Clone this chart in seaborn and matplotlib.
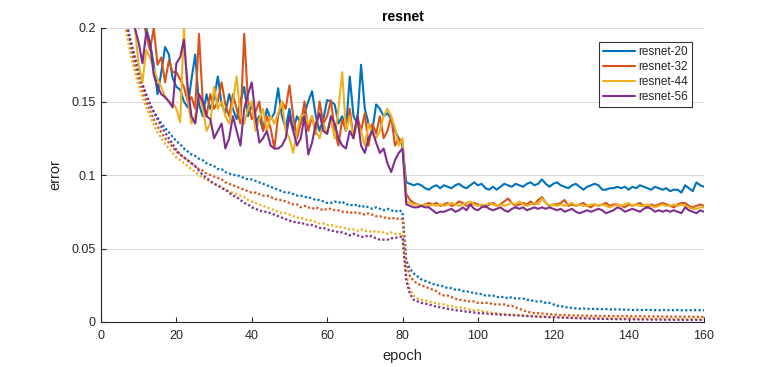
import numpy as np
import pandas as pd
import matplotlib
matplotlib.use("Agg")
import matplotlib.pyplot as plt
import seaborn as sns

# ---------------- data ----------------
models = ["resnet-20", "resnet-32", "resnet-44", "resnet-56"]
colors = ["#0072BD", "#D95319", "#EDB120", "#7E2F8E"]
epochs = list(range(1, 161))
x_ticks = [0, 20, 40, 60, 80, 100, 120, 140, 160]
y_ticks = [0, 0.05, 0.1, 0.15, 0.2]
y_tick_labels = ["0", "0.05", "0.1", "0.15", "0.2"]

test_r20 = [
    0.42, 0.34, 0.30, 0.27, 0.25, 0.235, 0.22, 0.215, 0.21, 0.205,
    0.21, 0.20, 0.19, 0.175, 0.155, 0.17, 0.187, 0.182, 0.166, 0.16,
    0.158, 0.15, 0.146, 0.165, 0.182, 0.148, 0.14, 0.155, 0.145, 0.152,
    0.167, 0.148, 0.142, 0.155, 0.145, 0.138, 0.15, 0.16, 0.14, 0.148,
    0.135, 0.14, 0.13, 0.145, 0.138, 0.142, 0.159, 0.14, 0.132, 0.145,
    0.13, 0.14, 0.135, 0.142, 0.15, 0.157, 0.14, 0.13, 0.138, 0.151,
    0.15, 0.148, 0.135, 0.14, 0.13, 0.167, 0.14, 0.135, 0.175, 0.145,
    0.135, 0.13, 0.148, 0.145, 0.14, 0.142, 0.138, 0.13, 0.125, 0.12,
    0.095, 0.094, 0.093, 0.094, 0.093, 0.091, 0.090, 0.092, 0.093, 0.091,
    0.093, 0.092, 0.091, 0.093, 0.094, 0.092, 0.091, 0.093, 0.095, 0.093,
    0.094, 0.091, 0.090, 0.092, 0.090, 0.092, 0.094, 0.093, 0.092, 0.094,
    0.093, 0.092, 0.094, 0.095, 0.093, 0.094, 0.097, 0.094, 0.092, 0.094,
    0.095, 0.093, 0.092, 0.091, 0.093, 0.094, 0.092, 0.090, 0.092, 0.093,
    0.094, 0.093, 0.090, 0.090, 0.091, 0.091, 0.092, 0.091, 0.092, 0.090,
    0.092, 0.091, 0.093, 0.092, 0.091, 0.090, 0.092, 0.091, 0.090, 0.091,
    0.089, 0.090, 0.090, 0.088, 0.093, 0.091, 0.089, 0.095, 0.093, 0.092,
]
test_r32 = [
    0.44, 0.35, 0.30, 0.27, 0.25, 0.235, 0.225, 0.215, 0.21, 0.20,
    0.21, 0.195, 0.185, 0.20, 0.175, 0.18, 0.163, 0.178, 0.17, 0.17,
    0.165, 0.16, 0.15, 0.153, 0.145, 0.196, 0.15, 0.14, 0.155, 0.145,
    0.15, 0.163, 0.148, 0.14, 0.155, 0.145, 0.135, 0.196, 0.15, 0.138,
    0.143, 0.15, 0.13, 0.14, 0.132, 0.118, 0.14, 0.15, 0.145, 0.161,
    0.14, 0.125, 0.135, 0.15, 0.13, 0.14, 0.128, 0.15, 0.135, 0.14,
    0.151, 0.13, 0.12, 0.138, 0.13, 0.145, 0.125, 0.14, 0.13, 0.142,
    0.12, 0.135, 0.128, 0.14, 0.125, 0.13, 0.14, 0.12, 0.125, 0.122,
    0.087, 0.083, 0.081, 0.080, 0.079, 0.080, 0.081, 0.080, 0.081, 0.079,
    0.080, 0.081, 0.079, 0.080, 0.082, 0.081, 0.079, 0.080, 0.081, 0.080,
    0.079, 0.078, 0.080, 0.081, 0.079, 0.080, 0.082, 0.084, 0.081, 0.079,
    0.080, 0.081, 0.080, 0.082, 0.080, 0.083, 0.085, 0.081, 0.079, 0.080,
    0.080, 0.081, 0.083, 0.079, 0.080, 0.079, 0.080, 0.081, 0.079, 0.078,
    0.080, 0.079, 0.080, 0.081, 0.079, 0.080, 0.080, 0.079, 0.078, 0.080,
    0.079, 0.080, 0.081, 0.079, 0.078, 0.080, 0.079, 0.080, 0.081, 0.080,
    0.079, 0.078, 0.080, 0.081, 0.081, 0.079, 0.078, 0.079, 0.080, 0.079,
]
test_r44 = [
    0.40, 0.32, 0.28, 0.25, 0.23, 0.215, 0.21, 0.205, 0.20, 0.175,
    0.163, 0.185, 0.18, 0.172, 0.165, 0.16, 0.153, 0.15, 0.149, 0.145,
    0.136, 0.20, 0.151, 0.135, 0.14, 0.155, 0.145, 0.13, 0.135, 0.16,
    0.145, 0.15, 0.14, 0.135, 0.15, 0.167, 0.14, 0.135, 0.145, 0.15,
    0.13, 0.138, 0.145, 0.13, 0.14, 0.135, 0.142, 0.15, 0.13, 0.125,
    0.115, 0.13, 0.14, 0.141, 0.135, 0.14, 0.13, 0.125, 0.135, 0.128,
    0.138, 0.125, 0.145, 0.17, 0.13, 0.14, 0.125, 0.135, 0.13, 0.12,
    0.135, 0.128, 0.125, 0.13, 0.14, 0.145, 0.14, 0.132, 0.12, 0.125,
    0.082, 0.081, 0.080, 0.080, 0.079, 0.080, 0.079, 0.080, 0.079, 0.080,
    0.079, 0.080, 0.081, 0.080, 0.079, 0.080, 0.081, 0.082, 0.080, 0.079,
    0.080, 0.079, 0.081, 0.080, 0.079, 0.080, 0.079, 0.080, 0.081, 0.080,
    0.082, 0.080, 0.079, 0.080, 0.081, 0.080, 0.084, 0.081, 0.079, 0.080,
    0.079, 0.080, 0.079, 0.080, 0.081, 0.079, 0.080, 0.079, 0.079, 0.080,
    0.080, 0.079, 0.080, 0.079, 0.078, 0.079, 0.080, 0.079, 0.080, 0.081,
    0.079, 0.080, 0.079, 0.079, 0.080, 0.079, 0.078, 0.079, 0.080, 0.079,
    0.079, 0.080, 0.079, 0.080, 0.079, 0.078, 0.077, 0.077, 0.078, 0.078,
]
test_r56 = [
    0.43, 0.35, 0.30, 0.26, 0.24, 0.225, 0.215, 0.21, 0.20, 0.19,
    0.176, 0.197, 0.19, 0.168, 0.16, 0.155, 0.153, 0.15, 0.146, 0.176,
    0.18, 0.192, 0.16, 0.14, 0.135, 0.155, 0.15, 0.14, 0.138, 0.125,
    0.13, 0.135, 0.118, 0.125, 0.14, 0.13, 0.12, 0.145, 0.155, 0.163,
    0.14, 0.122, 0.125, 0.13, 0.12, 0.118, 0.118, 0.12, 0.125, 0.14,
    0.13, 0.12, 0.125, 0.14, 0.114, 0.122, 0.135, 0.142, 0.13, 0.128,
    0.14, 0.135, 0.125, 0.12, 0.118, 0.13, 0.125, 0.14, 0.12, 0.115,
    0.125, 0.13, 0.122, 0.115, 0.118, 0.108, 0.102, 0.11, 0.115, 0.118,
    0.080, 0.079, 0.078, 0.078, 0.079, 0.078, 0.078, 0.076, 0.074, 0.075,
    0.075, 0.076, 0.077, 0.075, 0.076, 0.078, 0.076, 0.080, 0.077, 0.076,
    0.078, 0.079, 0.077, 0.076, 0.077, 0.078, 0.076, 0.075, 0.077, 0.078,
    0.077, 0.078, 0.076, 0.077, 0.078, 0.077, 0.078, 0.077, 0.078, 0.077,
    0.076, 0.077, 0.075, 0.076, 0.077, 0.075, 0.074, 0.075, 0.076, 0.075,
    0.076, 0.077, 0.076, 0.074, 0.075, 0.076, 0.078, 0.077, 0.075, 0.076,
    0.077, 0.076, 0.075, 0.077, 0.078, 0.077, 0.075, 0.076, 0.075, 0.076,
    0.075, 0.076, 0.075, 0.074, 0.078, 0.076, 0.075, 0.074, 0.076, 0.075,
]

train_r20 = [
    0.46, 0.35, 0.295, 0.262, 0.237, 0.217, 0.201, 0.189, 0.178, 0.169,
    0.161, 0.154, 0.148, 0.143, 0.139, 0.135, 0.132, 0.129, 0.126, 0.123,
    0.121, 0.118, 0.116, 0.114, 0.113, 0.111, 0.110, 0.108, 0.107, 0.106,
    0.104, 0.104, 0.102, 0.101, 0.100, 0.100, 0.099, 0.098, 0.097, 0.097,
    0.096, 0.095, 0.094, 0.093, 0.092, 0.091, 0.090, 0.089, 0.088, 0.088,
    0.087, 0.086, 0.086, 0.085, 0.085, 0.084, 0.083, 0.083, 0.082, 0.081,
    0.081, 0.082, 0.081, 0.082, 0.080, 0.080, 0.079, 0.080, 0.078, 0.079,
    0.078, 0.077, 0.078, 0.077, 0.076, 0.077, 0.076, 0.075, 0.076, 0.075,
    0.042, 0.036, 0.033, 0.031, 0.029, 0.028, 0.027, 0.026, 0.025, 0.025,
    0.024, 0.023, 0.023, 0.022, 0.022, 0.021, 0.021, 0.020, 0.020, 0.019,
    0.019, 0.018, 0.018, 0.018, 0.017, 0.017, 0.017, 0.016, 0.017, 0.016,
    0.016, 0.016, 0.015, 0.015, 0.014, 0.014, 0.014, 0.013, 0.013, 0.012,
    0.011, 0.011, 0.010, 0.010, 0.0095, 0.0092, 0.009, 0.0092, 0.009, 0.0088,
    0.009, 0.0088, 0.0087, 0.0088, 0.0086, 0.0085, 0.0087, 0.0085, 0.0084, 0.0083,
    0.0082, 0.0083, 0.0082, 0.0081, 0.0083, 0.0082, 0.0081, 0.0080, 0.0082, 0.0081,
    0.0080, 0.0081, 0.0082, 0.0080, 0.0079, 0.0081, 0.0080, 0.0081, 0.0080, 0.0080,
]
train_r32 = [
    0.45, 0.34, 0.29, 0.257, 0.232, 0.213, 0.198, 0.185, 0.174, 0.165,
    0.157, 0.150, 0.144, 0.138, 0.133, 0.129, 0.125, 0.122, 0.119, 0.116,
    0.114, 0.112, 0.110, 0.108, 0.106, 0.104, 0.103, 0.101, 0.100, 0.099,
    0.098, 0.097, 0.095, 0.094, 0.093, 0.092, 0.091, 0.090, 0.089, 0.088,
    0.088, 0.087, 0.086, 0.086, 0.085, 0.084, 0.083, 0.083, 0.082, 0.081,
    0.080, 0.080, 0.078, 0.079, 0.078, 0.077, 0.078, 0.077, 0.076, 0.077,
    0.077, 0.076, 0.076, 0.075, 0.075, 0.074, 0.075, 0.074, 0.074, 0.073,
    0.074, 0.073, 0.072, 0.072, 0.071, 0.071, 0.070, 0.071, 0.070, 0.070,
    0.040, 0.031, 0.028, 0.026, 0.025, 0.024, 0.023, 0.022, 0.021, 0.019,
    0.018, 0.018, 0.017, 0.016, 0.015, 0.015, 0.014, 0.014, 0.014, 0.013,
    0.013, 0.013, 0.013, 0.012, 0.012, 0.012, 0.012, 0.011, 0.011, 0.010,
    0.009, 0.008, 0.007, 0.0065, 0.006, 0.006, 0.0058, 0.0055, 0.0055, 0.005,
    0.005, 0.0048, 0.0047, 0.0046, 0.0045, 0.0045, 0.0044, 0.0043, 0.0043, 0.0042,
    0.0042, 0.0041, 0.0040, 0.0041, 0.0040, 0.0040, 0.0039, 0.0040, 0.0039, 0.0039,
    0.0039, 0.0038, 0.0039, 0.0038, 0.0038, 0.0038, 0.0037, 0.0038, 0.0037, 0.0037,
    0.0037, 0.0036, 0.0037, 0.0036, 0.0036, 0.0036, 0.0035, 0.0036, 0.0035, 0.0035,
]
train_r44 = [
    0.44, 0.33, 0.283, 0.25, 0.226, 0.207, 0.193, 0.18, 0.17, 0.161,
    0.153, 0.146, 0.14, 0.134, 0.129, 0.125, 0.121, 0.118, 0.115, 0.112,
    0.110, 0.108, 0.106, 0.104, 0.102, 0.100, 0.098, 0.097, 0.095, 0.094,
    0.093, 0.092, 0.090, 0.089, 0.088, 0.087, 0.086, 0.085, 0.083, 0.082,
    0.081, 0.080, 0.079, 0.078, 0.077, 0.076, 0.075, 0.074, 0.074, 0.073,
    0.072, 0.071, 0.071, 0.070, 0.069, 0.069, 0.068, 0.067, 0.067, 0.066,
    0.066, 0.065, 0.065, 0.064, 0.064, 0.063, 0.063, 0.062, 0.063, 0.062,
    0.062, 0.061, 0.062, 0.061, 0.061, 0.060, 0.061, 0.060, 0.060, 0.060,
    0.032, 0.022, 0.018, 0.016, 0.015, 0.0145, 0.014, 0.013, 0.013, 0.012,
    0.012, 0.011, 0.011, 0.010, 0.010, 0.0095, 0.009, 0.0085, 0.008, 0.008,
    0.0075, 0.007, 0.0065, 0.006, 0.006, 0.0055, 0.0055, 0.005, 0.005, 0.0048,
    0.0046, 0.0045, 0.0043, 0.0042, 0.004, 0.0039, 0.0038, 0.0036, 0.0035, 0.0034,
    0.0033, 0.0032, 0.0031, 0.003, 0.003, 0.0029, 0.0028, 0.0028, 0.0027, 0.0027,
    0.0026, 0.0026, 0.0025, 0.0025, 0.0025, 0.0024, 0.0024, 0.0024, 0.0023, 0.0023,
    0.0023, 0.0022, 0.0022, 0.0022, 0.0022, 0.0021, 0.0021, 0.0021, 0.0021, 0.0020,
    0.0020, 0.0020, 0.0020, 0.0020, 0.0019, 0.0019, 0.0019, 0.0019, 0.0019, 0.0019,
]
train_r56 = [
    0.44, 0.33, 0.28, 0.25, 0.228, 0.212, 0.20, 0.19, 0.18, 0.171,
    0.162, 0.155, 0.148, 0.143, 0.138, 0.133, 0.129, 0.125, 0.121, 0.117,
    0.114, 0.112, 0.110, 0.108, 0.106, 0.103, 0.100, 0.098, 0.096, 0.094,
    0.093, 0.091, 0.090, 0.088, 0.086, 0.085, 0.083, 0.081, 0.080, 0.078,
    0.077, 0.076, 0.075, 0.075, 0.074, 0.073, 0.072, 0.071, 0.070, 0.069,
    0.068, 0.068, 0.067, 0.067, 0.066, 0.066, 0.065, 0.064, 0.064, 0.063,
    0.062, 0.062, 0.061, 0.061, 0.060, 0.059, 0.060, 0.059, 0.058, 0.058,
    0.059, 0.058, 0.057, 0.056, 0.056, 0.056, 0.057, 0.057, 0.058, 0.058,
    0.028, 0.019, 0.015, 0.014, 0.013, 0.0125, 0.012, 0.011, 0.0105, 0.010,
    0.0095, 0.009, 0.0085, 0.008, 0.0078, 0.0075, 0.007, 0.0068, 0.0065, 0.006,
    0.006, 0.0058, 0.0055, 0.0054, 0.0052, 0.005, 0.0049, 0.0048, 0.0046, 0.0045,
    0.0044, 0.0042, 0.004, 0.0039, 0.0038, 0.0036, 0.0035, 0.0034, 0.0033, 0.0032,
    0.0031, 0.003, 0.0029, 0.0028, 0.0027, 0.0026, 0.0025, 0.0025, 0.0024, 0.0023,
    0.0022, 0.0022, 0.0021, 0.0021, 0.0020, 0.0020, 0.0019, 0.0019, 0.0019, 0.0018,
    0.0018, 0.0018, 0.0017, 0.0017, 0.0017, 0.0016, 0.0016, 0.0016, 0.0016, 0.0015,
    0.0015, 0.0015, 0.0015, 0.0015, 0.0014, 0.0014, 0.0014, 0.0014, 0.0014, 0.0014,
]

test_series = [test_r20, test_r32, test_r44, test_r56]
train_series = [train_r20, train_r32, train_r44, train_r56]

# ---------------- plot ----------------
sns.set_theme(style="white")
plt.rcParams["font.family"] = ["Liberation Sans", "DejaVu Sans"]

fig = plt.figure(figsize=(7.79, 3.67), dpi=100)
ax = fig.add_axes([101 / 779, 1 - 322 / 367, 603 / 779, 294 / 367])

for name, col, tr in zip(models, colors, train_series):
    df = pd.DataFrame({"epoch": epochs, "error": tr})
    sns.lineplot(data=df, x="epoch", y="error", ax=ax, color=col,
                 linewidth=1.6, dashes=False, legend=False,
                 linestyle=(0, (1, 1)))

for name, col, te in zip(models, colors, test_series):
    df = pd.DataFrame({"epoch": epochs, "error": te})
    sns.lineplot(data=df, x="epoch", y="error", ax=ax, color=col,
                 linewidth=1.5, label=name)

ax.set_xlim(0, 160)
ax.set_ylim(0, 0.2)
ax.set_xticks(x_ticks)
ax.set_xticklabels([str(t) for t in x_ticks])
ax.set_yticks(y_ticks)
ax.set_yticklabels(y_tick_labels)

ax.yaxis.grid(True, color="#dcdcdc", linewidth=0.8)
ax.xaxis.grid(False)
ax.set_axisbelow(True)
for s in ["top", "right"]:
    ax.spines[s].set_visible(False)
for s in ["left", "bottom"]:
    ax.spines[s].set_color("#262626")
    ax.spines[s].set_linewidth(0.8)
ax.tick_params(axis="both", direction="in", length=3.5, width=0.8,
               colors="#262626", labelsize=9)
ax.tick_params(axis="x", bottom=True, pad=6)
ax.tick_params(axis="y", left=True, pad=4)

ax.set_xlabel("epoch", fontsize=10.5, color="#262626", labelpad=5)
ax.set_ylabel("error", fontsize=10.5, color="#262626", labelpad=6)
ax.set_title("resnet", fontsize=10, fontweight="bold", color="black", pad=5)

leg = ax.legend(loc="upper right", bbox_to_anchor=(0.98, 0.952),
                borderaxespad=0, fontsize=8.5, frameon=True, fancybox=False,
                edgecolor="black", handlelength=2.7, labelspacing=0.25,
                handletextpad=0.3, borderpad=0.35)
leg.get_frame().set_linewidth(0.8)

fig.savefig("out.png", dpi=100)
